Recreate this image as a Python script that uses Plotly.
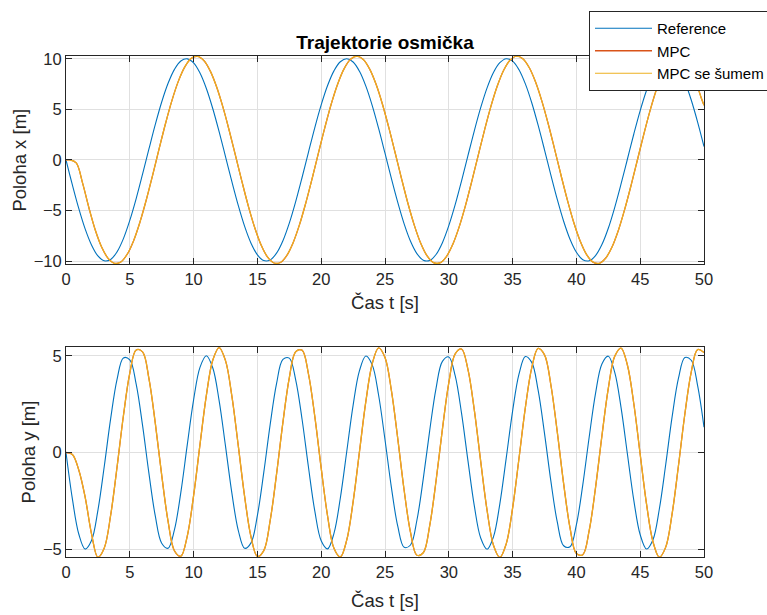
import numpy as np
import plotly.graph_objects as go

# ---- data ----
t = np.linspace(0, 50, 101)                       # common sample times [s]
t_x_mpc = np.concatenate([[0.0], np.arange(0.3, 50, 0.5), [50.0]])  # sample times for MPC x

x_ref = [0.0, -2.47, -4.79, -6.82, -8.41, -9.49, -9.97, -9.84, -9.09, -7.78,
         -5.98, -3.82, -1.41, 1.08, 3.51, 5.72, 7.57, 8.95, 9.78, 9.99,
         9.59, 8.59, 7.06, 5.08, 2.79, 0.33, -2.15, -4.50, -6.57, -8.23,
         -9.38, -9.95, -9.89, -9.22, -7.99, -6.25, -4.12, -1.74, 0.75, 3.20,
         5.44, 7.35, 8.80, 9.70, 10.00, 9.68, 8.76, 7.29, 5.37, 3.11,
         0.66, -1.83, -4.20, -6.32, -8.04, -9.26, -9.91, -9.94, -9.35, -8.18,
         -6.50, -4.43, -2.07, 0.42, 2.88, 5.16, 7.12, 8.64, 9.61, 10.00,
         9.76, 8.91, 7.51, 5.65, 3.43, 1.00, -1.50, -3.90, -6.06, -7.84,
         -9.13, -9.86, -9.97, -9.46, -8.37, -6.76, -4.71, -2.38, 0.09, 2.56,
         4.87, 6.88, 8.46, 9.52, 9.98, 9.82, 9.06, 7.73, 5.92, 3.74,
         1.32]

x_mpc = [0.0,
         0.0, -0.3, -2.3, -4.75, -6.95,
         -8.63, -9.73, -10.22, -10.09, -9.32,
         -7.98, -6.13, -3.91, -1.45, 1.11, 3.60, 5.86, 7.76, 9.17, 10.02,
         10.24, 9.83, 8.80, 7.23, 5.21, 2.86, 0.34, -2.20, -4.61, -6.73,
         -8.44, -9.61, -10.19, -10.14, -9.45, -8.18, -6.40, -4.22, -1.79, 0.77,
         3.27, 5.58, 7.53, 9.02, 9.94, 10.25, 9.92, 8.97, 7.47, 5.50,
         3.19, 0.68, -1.87, -4.31, -6.47, -8.24, -9.49, -10.15, -10.18, -9.58,
         -8.38, -6.67, -4.54, -2.12, 0.43, 2.95, 5.29, 7.30, 8.86, 9.85,
         10.25, 10.00, 9.13, 7.70, 5.79, 3.52, 1.02, -1.54, -4.00, -6.21,
         -8.03, -9.36, -10.10, -10.22, -9.70, -8.58, -6.92, -4.82, -2.44, 0.09,
         2.62, 4.99, 7.05, 8.67, 9.76, 10.23, 10.07, 9.28, 7.92, 6.07,
         5.4]
x_mpc_noise = list(x_mpc)   # coincides with MPC in the picture

y_ref = [0.0, -2.40, -4.21, -4.99, -4.55, -2.99, -0.71, 1.75, 3.78, 4.89,
         4.79, 3.53, 1.40, -1.08, -3.29, -4.69, -4.95, -3.99, -2.06, 0.38,
         2.72, 4.40, 5.00, 4.38, 2.68, 0.33, -2.10, -4.02, -4.95, -4.67,
         -3.25, -1.03, 1.44, 3.56, 4.81, 4.88, 3.76, 1.72, -0.75, -3.03,
         -4.56, -4.98, -4.18, -2.35, 0.04, 2.44, 4.23, 4.99, 4.53, 2.96,
         0.66, -1.80, -3.81, -4.90, -4.78, -3.50, -1.35, 1.12, 3.32, 4.71,
         4.94, 3.97, 2.02, -0.42, -2.76, -4.42, -5.00, -4.36, -2.65, -0.29,
         2.14, 4.05, 4.96, 4.66, 3.22, 0.99, -1.48, -3.59, -4.82, -4.87,
         -3.73, -1.67, 0.79, 3.06, 4.58, 4.98, 4.16, 2.32, -0.09, -2.47,
         -4.25, -4.99, -4.51, -2.92, -0.62, 1.84, 3.84, 4.91, 4.77, 3.46,
         1.31]

y_mpc = [0.0, -0.1, -0.9, -2.3, -4.2,
         -5.41, -4.93, -3.24, -0.76, 1.90,
         4.10, 5.30, 5.20, 3.82, 1.51, -1.17, -3.56, -5.08, -5.36, -4.33,
         -2.23, 0.41, 2.95, 4.77, 5.42, 4.75, 2.91, 0.36, -2.28, -4.36,
         -5.37, -5.07, -3.52, -1.12, 1.56, 3.86, 5.21, 5.29, 4.07, 1.86,
         -0.81, -3.28, -4.95, -5.40, -4.53, -2.55, 0.05, 2.64, 4.59, 5.41,
         4.91, 3.21, 0.72, -1.95, -4.13, -5.31, -5.18, -3.79, -1.47, 1.21,
         3.60, 5.10, 5.35, 4.30, 2.19, -0.46, -2.99, -4.79, -5.42, -4.72,
         -2.87, -0.31, 2.32, 4.38, 5.38, 5.05, 3.49, 1.07, -1.61, -3.89,
         -5.22, -5.28, -4.04, -1.81, 0.86, 3.32, 4.97, 5.40, 4.51, 2.52,
         -0.10, -2.68, -4.61, -5.41, -4.89, -3.17, -0.67, 1.99, 4.16, 5.32,
         5.17]
y_mpc_noise = list(y_mpc)   # coincides with MPC in the picture

names = ["Reference", "MPC", "MPC se šumem"]
title_text = "Trajektorie osmička"
x_label = "Čas t [s]"
y_labels = ["Poloha x [m]", "Poloha y [m]"]

# ---- styling ----
BLUE, RED, YEL = "#0072BD", "#D95319", "#EDB120"
FONT = "Liberation Sans, Arial, Helvetica, sans-serif"
AX = "#262626"

fig = go.Figure()

series_top = [(t, x_ref, BLUE, 1.1), (t_x_mpc, x_mpc, RED, 1.3), (t_x_mpc, x_mpc_noise, YEL, 1.2)]
series_bot = [(t, y_ref, BLUE, 1.1), (t, y_mpc, RED, 1.3), (t, y_mpc_noise, YEL, 1.2)]

for i, (xx, yy, c, w) in enumerate(series_top):
    fig.add_trace(go.Scatter(x=xx, y=yy, mode="lines", name=names[i],
                             line=dict(color=c, width=w, shape="spline", smoothing=1),
                             xaxis="x", yaxis="y", showlegend=True))
for i, (xx, yy, c, w) in enumerate(series_bot):
    fig.add_trace(go.Scatter(x=xx, y=yy, mode="lines", name=names[i],
                             line=dict(color=c, width=w, shape="spline", smoothing=1),
                             xaxis="x2", yaxis="y2", showlegend=False))

common = dict(showline=True, linecolor=AX, linewidth=1, mirror="ticks",
              ticks="inside", ticklen=6, tickcolor=AX, tickwidth=1,
              showgrid=True, gridcolor="#e0e0e0", gridwidth=1, zeroline=False,
              tickfont=dict(family=FONT, size=16.5, color=AX),
              title_font=dict(family=FONT, size=18.5, color=AX))

fig.update_layout(
    width=767, height=615,
    margin=dict(l=66, r=63, t=56, b=58, autoexpand=False),
    paper_bgcolor="white", plot_bgcolor="white",
    font=dict(family=FONT),
    title=dict(text="<b>" + title_text + "</b>", x=0.5, xref="paper", xanchor="center",
               y=1 - 42 / 615, yref="container", yanchor="middle",
               font=dict(family=FONT, size=19, color="black")),
    xaxis=dict(domain=[0, 1], anchor="y", range=[0, 50], tick0=0, dtick=5,
               title=dict(text=x_label, standoff=8), **common),
    yaxis=dict(domain=[0.584, 1], anchor="x", range=[-10.33, 10.27], tick0=0, dtick=5,
               title=dict(text=y_labels[0], standoff=2), **common),
    xaxis2=dict(domain=[0, 1], anchor="y2", range=[0, 50], tick0=0, dtick=5,
                title=dict(text=x_label, standoff=14), **common),
    yaxis2=dict(domain=[0, 0.419], anchor="x2", range=[-5.4, 5.45], tick0=0, dtick=5,
                title=dict(text=y_labels[1], standoff=2), **common),
    legend=dict(x=(589 - 66) / 638, y=(557 - 11) / 501, xanchor="left", yanchor="top",
                bgcolor="white", bordercolor=AX, borderwidth=1,
                font=dict(family=FONT, size=15, color="black"),
                itemwidth=57, tracegroupgap=0),
    showlegend=True,
)

fig.write_html("out.html")
